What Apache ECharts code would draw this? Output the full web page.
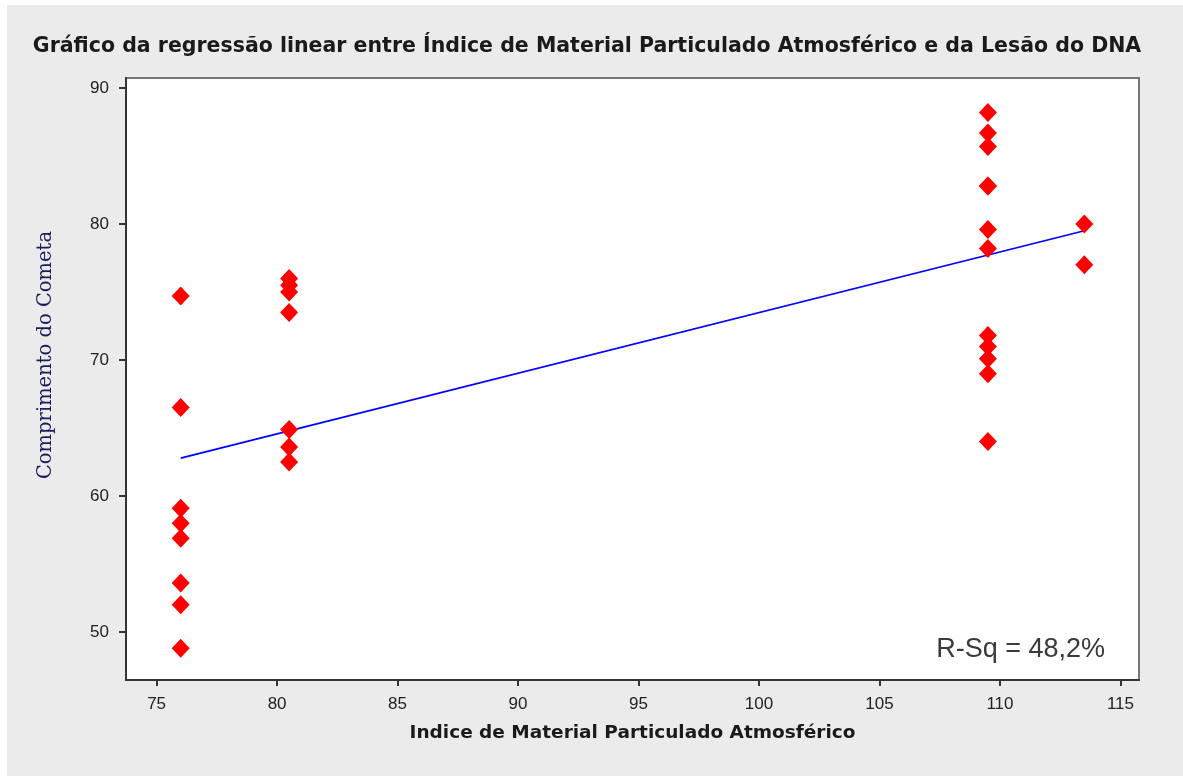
<!DOCTYPE html>
<html>
<head>
<meta charset="utf-8">
<title>Regressão linear</title>
<script src="https://cdn.jsdelivr.net/npm/echarts@6/dist/echarts.min.js"></script>
<style>
  html, body { margin: 0; padding: 0; background: #ffffff; }
  #chart { position: absolute; left: 7px; top: 5px; width: 1176px; height: 771px; }
</style>
</head>
<body>
<div id="chart"></div>
<script>
// Índice de material particulado (x) e comprimento do cometa (y), um par por amostra
const indice = [
  76, 76, 76, 76, 76, 76, 76, 76,
  80.5, 80.5, 80.5, 80.5, 80.5, 80.5, 80.5,
  109.5, 109.5, 109.5, 109.5, 109.5, 109.5, 109.5, 109.5, 109.5, 109.5, 109.5, 109.5,
  113.5, 113.5
];
const comprimento = [
  74.7, 66.5, 59.1, 58.0, 56.9, 53.6, 52.0, 48.8,
  76.0, 75.5, 75.0, 73.5, 64.9, 63.6, 62.5,
  88.2, 86.7, 85.7, 82.8, 82.8, 79.6, 78.2, 71.8, 71.0, 70.1, 69.0, 64.0,
  80.0, 77.0
];
const xTicks = [75, 80, 85, 90, 95, 100, 105, 110, 115];
const yTicks = [50, 60, 70, 80, 90];
const rSqText = 'R-Sq = 48,2%';

// Ajuste por mínimos quadrados
const n = indice.length;
const mx = indice.reduce((a, b) => a + b, 0) / n;
const my = comprimento.reduce((a, b) => a + b, 0) / n;
let sxx = 0, sxy = 0;
for (let i = 0; i < n; i++) {
  sxx += (indice[i] - mx) * (indice[i] - mx);
  sxy += (indice[i] - mx) * (comprimento[i] - my);
}
const slope = sxy / sxx;
const intercept = my - slope * mx;
const xLo = Math.min(...indice), xHi = Math.max(...indice);
const fitLine = [[xLo, intercept + slope * xLo], [xHi, intercept + slope * xHi]];

const points = indice.map((x, i) => [x, comprimento[i]]);

const chart = echarts.init(document.getElementById('chart'));
chart.setOption({
  backgroundColor: '#ebebeb',
  animation: false,
  title: {
    text: 'Gráfico da regressão linear entre Índice de Material Particulado Atmosférico e da Lesão do DNA',
    left: 575,
    textAlign: 'center',
    top: 26,
    textStyle: { fontFamily: 'DejaVu Sans', fontWeight: 'bold', fontSize: 20.5, color: '#1a1a1a' }
  },
  grid: {
    left: 119, right: 44, top: 73, bottom: 96,
    show: true, backgroundColor: '#ffffff', borderColor: '#777777', borderWidth: 2
  },
  xAxis: {
    type: 'value',
    min: 73.73, max: 115.77,
    name: 'Indice de Material Particulado Atmosférico',
    nameLocation: 'middle',
    nameGap: 44,
    nameTextStyle: { fontFamily: 'DejaVu Sans', fontWeight: 'bold', fontSize: 18.5, color: '#1a1a1a' },
    axisLine: { onZero: false, lineStyle: { color: '#333333', width: 2 } },
    axisTick: { show: true, inside: false, length: 6, customValues: xTicks, lineStyle: { color: '#333333', width: 2 } },
    axisLabel: { customValues: xTicks, margin: 16, fontFamily: 'Liberation Sans', fontSize: 17, color: '#222222' },
    splitLine: { show: false }
  },
  yAxis: {
    type: 'value',
    min: 46.47, max: 90.74,
    name: 'Comprimento do Cometa',
    nameLocation: 'middle',
    nameGap: 70,
    nameTextStyle: { fontFamily: 'DejaVu Serif', fontSize: 19.5, color: '#1c1c5a', padding: [0, 0, 0, 48] },
    axisLine: { onZero: false, lineStyle: { color: '#333333', width: 2 } },
    axisTick: { show: true, inside: false, length: 7, customValues: yTicks, lineStyle: { color: '#333333', width: 2 } },
    axisLabel: { customValues: yTicks, margin: 17, fontFamily: 'Liberation Sans', fontSize: 17, color: '#222222' },
    splitLine: { show: false }
  },
  graphic: [{
    type: 'text',
    x: 1098, y: 645,
    style: {
      text: rSqText, fill: '#3a3a3a',
      font: '27px "Liberation Sans"',
      align: 'right', verticalAlign: 'middle'
    }
  }],
  series: [
    {
      type: 'line',
      data: fitLine,
      symbol: 'none',
      lineStyle: { color: '#0000ff', width: 1.8 },
      z: 2
    },
    {
      type: 'scatter',
      data: points,
      symbol: 'diamond',
      symbolSize: [18, 19],
      itemStyle: { color: '#ff0000', opacity: 1 },
      z: 3
    }
  ]
});
</script>
</body>
</html>
